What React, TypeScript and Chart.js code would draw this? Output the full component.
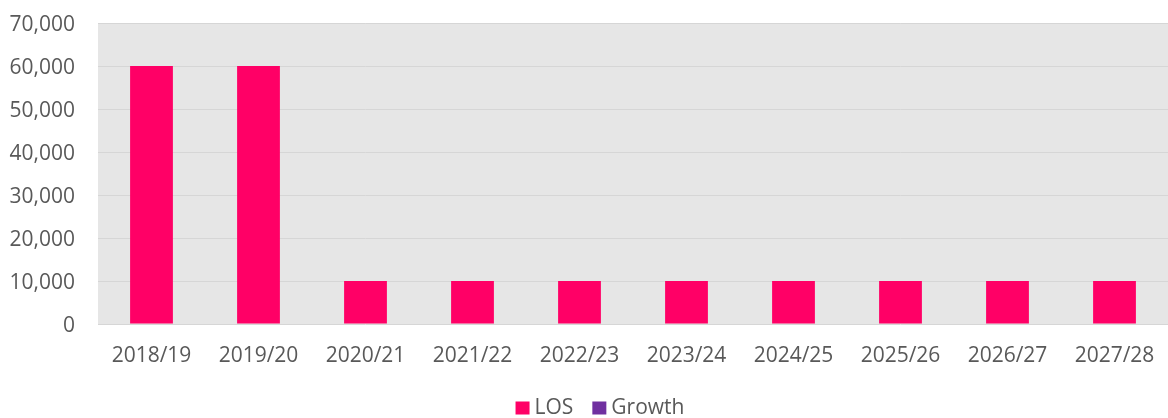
import React, { useEffect, useRef } from "react";
import { Chart, registerables } from "chart.js";

Chart.register(...registerables);

const categories = ["2018/19", "2019/20", "2020/21", "2021/22", "2022/23", "2023/24", "2024/25", "2025/26", "2026/27", "2027/28"];
const losValues = [60000, 60000, 10000, 10000, 10000, 10000, 10000, 10000, 10000, 10000];
const growthValues = [0, 0, 0, 0, 0, 0, 0, 0, 0, 0];
const seriesLabels = ["LOS", "Growth"];
const seriesColors = ["#FF0066", "#7030A0"];

const FONT = "'Open Sans', 'Noto Sans', sans-serif";
const TEXT_COLOR = "#595959";

const plotBg = {
  id: "plotBg",
  beforeDraw(chart: any) {
    const { ctx, chartArea } = chart;
    if (!chartArea) return;
    ctx.save();
    ctx.fillStyle = "#E6E6E6";
    ctx.fillRect(chartArea.left, chartArea.top, chartArea.right - chartArea.left, chartArea.bottom - chartArea.top);
    ctx.restore();
  },
};

const customLegend = {
  id: "customLegend",
  afterDraw(chart: any) {
    const { ctx } = chart;
    const datasets = chart.data.datasets;
    const box = 13;
    const gap = 6;
    const itemGap = 19;
    ctx.save();
    ctx.font = `21px ${FONT}`;
    ctx.textBaseline = "middle";
    ctx.textAlign = "left";
    const widths = datasets.map((d: any) => box + gap + ctx.measureText(d.label).width);
    const total = widths.reduce((a: number, b: number) => a + b, 0) + itemGap * (datasets.length - 1);
    let x = 600 - total / 2;
    const cy = 408;
    datasets.forEach((d: any, i: number) => {
      ctx.fillStyle = d.backgroundColor;
      ctx.fillRect(x, cy - box / 2, box + 1, box);
      ctx.fillStyle = TEXT_COLOR;
      ctx.fillText(d.label, x + box + gap, cy);
      x += widths[i] + itemGap;
    });
    ctx.restore();
  },
};

const zeroPad = (scale: any) => {
  scale.paddingTop = 0;
  scale.paddingBottom = 0;
  scale.paddingLeft = 0;
  scale.paddingRight = 0;
};

export default function App() {
  const ref = useRef<HTMLCanvasElement | null>(null);
  useEffect(() => {
    if (!ref.current) return;
    const chart = new Chart(ref.current, {
      type: "bar",
      data: {
        labels: categories,
        datasets: [
          { label: seriesLabels[0], data: losValues, backgroundColor: seriesColors[0], barPercentage: 0.4, categoryPercentage: 1 },
          { label: seriesLabels[1], data: growthValues, backgroundColor: seriesColors[1], barPercentage: 0.4, categoryPercentage: 1 },
        ],
      },
      options: {
        responsive: false,
        animation: false,
        layout: { padding: { top: 23, left: 0, right: 0, bottom: 0 } },
        plugins: { legend: { display: false }, tooltip: { enabled: false } },
        scales: {
          x: {
            stacked: true,
            grid: { display: false, drawTicks: false },
            border: { display: false },
            ticks: { color: TEXT_COLOR, font: { family: FONT, size: 21 }, padding: 19, maxRotation: 0 },
            afterFit(scale: any) { scale.height = 94; zeroPad(scale); },
          },
          y: {
            stacked: true,
            min: 0,
            max: 70000,
            grid: { color: "#D6D6D6", lineWidth: 1, drawTicks: false },
            border: { display: false },
            ticks: {
              stepSize: 10000,
              color: TEXT_COLOR,
              font: { family: FONT, size: 21 },
              padding: 23,
              labelOffset: 2,
              callback: (v: any) => Number(v).toLocaleString("en-US"),
            },
            afterFit(scale: any) { scale.width = 98; zeroPad(scale); },
          },
        },
      },
      plugins: [plotBg, customLegend],
    });
    return () => chart.destroy();
  }, []);
  return (
    <div style={{ position: "fixed", left: 0, top: 0, width: 1168, height: 418, background: "#fff" }}>
      <canvas ref={ref} width={1168} height={418} />
    </div>
  );
}
